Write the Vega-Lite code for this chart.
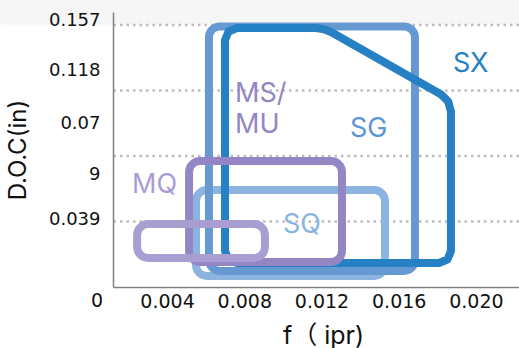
{
  "$schema": "https://vega.github.io/schema/vega-lite/v6.json",
  "width": 406,
  "height": 275,
  "autosize": {"type": "none"},
  "padding": {"left": 113, "top": 12, "right": 0, "bottom": 61},
  "background": "white",
  "config": {"view": {"stroke": null}},
  "datasets": {
    "band": [{"f": -0.00465, "f2": 0.02223, "doc": 0.1562, "doc2": 0.1708}],
    "grid": [{"doc": 0.039}, {"doc": 0.078}, {"doc": 0.117}, {"doc": 0.156}],
    "boxesBack": [
      {"name": "SQ", "f": 0.0055, "f2": 0.01529, "doc": 0.05774, "doc2": 0.00655},
      {"name": "SG", "f": 0.00617, "f2": 0.01684, "doc": 0.1551, "doc2": 0.00952}
    ],
    "boxesFront": [
      {"name": "MS/MU", "f": 0.00514, "f2": 0.01306, "doc": 0.075, "doc2": 0.01488},
      {"name": "MQ", "f": 0.00245, "f2": 0.00907, "doc": 0.0375, "doc2": 0.01726}
    ],
    "sx": [
      {"i": 1, "f": 0.007003, "doc": 0.08155},
      {"i": 2, "f": 0.007003, "doc": 0.14702},
      {"i": 3, "f": 0.007185, "doc": 0.15208},
      {"i": 4, "f": 0.007625, "doc": 0.15417},
      {"i": 5, "f": 0.011715, "doc": 0.15417},
      {"i": 6, "f": 0.01213, "doc": 0.15345},
      {"i": 7, "f": 0.012492, "doc": 0.15179},
      {"i": 8, "f": 0.018178, "doc": 0.11476},
      {"i": 9, "f": 0.018566, "doc": 0.11036},
      {"i": 10, "f": 0.018706, "doc": 0.10435},
      {"i": 11, "f": 0.018706, "doc": 0.02143},
      {"i": 12, "f": 0.018525, "doc": 0.01637},
      {"i": 13, "f": 0.018085, "doc": 0.01429},
      {"i": 14, "f": 0.007625, "doc": 0.01429},
      {"i": 15, "f": 0.007185, "doc": 0.01637},
      {"i": 16, "f": 0.007003, "doc": 0.02143},
      {"i": 17, "f": 0.007003, "doc": 0.08155}
    ],
    "labels": [
      {"name": "SX", "text": "SX", "f": 0.01881, "doc": 0.128},
      {"name": "SG", "text": "SG", "f": 0.013476, "doc": 0.0893},
      {"name": "MS/MU", "text": "MS/\nMU", "f": 0.007521, "doc": 0.1101},
      {"name": "MQ", "text": "MQ", "f": 0.002188, "doc": 0.05595},
      {"name": "SQ", "text": "SQ", "f": 0.010007, "doc": 0.03214}
    ],
    "origin": [{"f": 0.000375, "doc": -0.0119, "text": "0"}]
  },
  "layer": [
    {
      "data": {"name": "band"},
      "mark": {"type": "rect", "color": "#f6f6f6"},
      "encoding": {
        "x": {"field": "f", "type": "quantitative", "scale": {"domain": [0.0012, 0.02223], "nice": false, "zero": false}},
        "x2": {"field": "f2"},
        "y": {"field": "doc", "type": "quantitative", "scale": {"domain": [0, 0.1637], "nice": false, "zero": false}},
        "y2": {"field": "doc2"}
      }
    },
    {
      "data": {"name": "grid"},
      "mark": {"type": "rule", "color": "#bdbdbd", "strokeWidth": 2.5, "strokeDash": [2.5, 4]},
      "encoding": {
        "y": {
          "field": "doc", "type": "quantitative",
          "scale": {"domain": [0, 0.1637], "nice": false, "zero": false},
          "axis": {
            "values": [0.1589, 0.1286, 0.0973, 0.0667, 0.0399],
            "labelExpr": "datum.value > 0.15 ? '0.157' : datum.value > 0.11 ? '0.118' : datum.value > 0.08 ? '0.07' : datum.value > 0.05 ? '9' : '0.039'",
            "grid": false, "ticks": false, "zindex": 1,
            "domainColor": "#808080", "domainWidth": 1.5,
            "labelFont": "DejaVu Sans", "labelFontSize": 18, "labelColor": "#111111",
            "labelPadding": 13, "labelBaseline": "middle",
            "title": "D.O.C(in)", "titleFont": "Inter", "titleFontSize": 24,
            "titleFontWeight": "normal", "titleColor": "#111111",
            "titleX": -88, "titleY": 137.5, "titleBaseline": "alphabetic", "titleAlign": "center"
          }
        }
      }
    },
    {
      "data": {"name": "boxesBack"},
      "mark": {"type": "rect", "filled": false, "strokeWidth": 8, "cornerRadius": 11},
      "encoding": {
        "x": {
          "field": "f", "type": "quantitative",
          "scale": {"domain": [0.0012, 0.02223], "nice": false, "zero": false},
          "axis": {
            "values": [0.004, 0.008, 0.012, 0.016, 0.02], "format": ".3f",
            "grid": false, "ticks": false, "zindex": 1,
            "domainColor": "#808080", "domainWidth": 1.5,
            "labelFont": "DejaVu Sans", "labelFontSize": 19, "labelColor": "#111111",
            "labelPadding": 20, "labelBaseline": "alphabetic",
            "title": "f（ ipr)", "titleFont": "Inter, Noto Sans CJK JP", "titleFontSize": 25,
            "titleFontWeight": "normal", "titleColor": "#111111",
            "titleX": 210, "titleY": 56, "titleBaseline": "alphabetic", "titleAlign": "center"
          }
        },
        "x2": {"field": "f2"},
        "y": {"field": "doc", "type": "quantitative", "scale": {"domain": [0, 0.1637], "nice": false, "zero": false}},
        "y2": {"field": "doc2"},
        "stroke": {
          "field": "name", "type": "nominal",
          "scale": {"domain": ["SX", "SG", "MS/MU", "MQ", "SQ"], "range": ["#2581c4", "#6699d1", "#9486c4", "#a89ed2", "#8db4e0"]},
          "legend": null
        }
      }
    },
    {
      "data": {"name": "sx"},
      "mark": {"type": "line", "color": "#2581c4", "strokeWidth": 8, "strokeJoin": "round", "strokeCap": "round"},
      "encoding": {
        "x": {"field": "f", "type": "quantitative"},
        "y": {"field": "doc", "type": "quantitative"},
        "order": {"field": "i", "type": "quantitative"}
      }
    },
    {
      "data": {"name": "boxesFront"},
      "mark": {"type": "rect", "filled": false, "strokeWidth": 8, "cornerRadius": 11},
      "encoding": {
        "x": {"field": "f", "type": "quantitative"},
        "x2": {"field": "f2"},
        "y": {"field": "doc", "type": "quantitative"},
        "y2": {"field": "doc2"},
        "stroke": {"field": "name", "type": "nominal", "legend": null}
      }
    },
    {
      "data": {"name": "labels"},
      "mark": {"type": "text", "font": "Inter", "fontSize": 27, "align": "left", "baseline": "alphabetic", "lineBreak": "\n", "lineHeight": 31},
      "encoding": {
        "x": {"field": "f", "type": "quantitative"},
        "y": {"field": "doc", "type": "quantitative"},
        "text": {"field": "text"},
        "color": {
          "field": "name", "type": "nominal",
          "scale": {"domain": ["SX", "SG", "MS/MU", "MQ", "SQ"], "range": ["#2581c4", "#5b95d5", "#9386c6", "#a89dd6", "#8ab4e4"]},
          "legend": null
        }
      }
    },
    {
      "data": {"name": "origin"},
      "mark": {"type": "text", "font": "DejaVu Sans", "fontSize": 19, "align": "center", "baseline": "alphabetic", "color": "#111111"},
      "encoding": {
        "x": {"field": "f", "type": "quantitative"},
        "y": {"field": "doc", "type": "quantitative"},
        "text": {"field": "text"}
      }
    }
  ]
}
